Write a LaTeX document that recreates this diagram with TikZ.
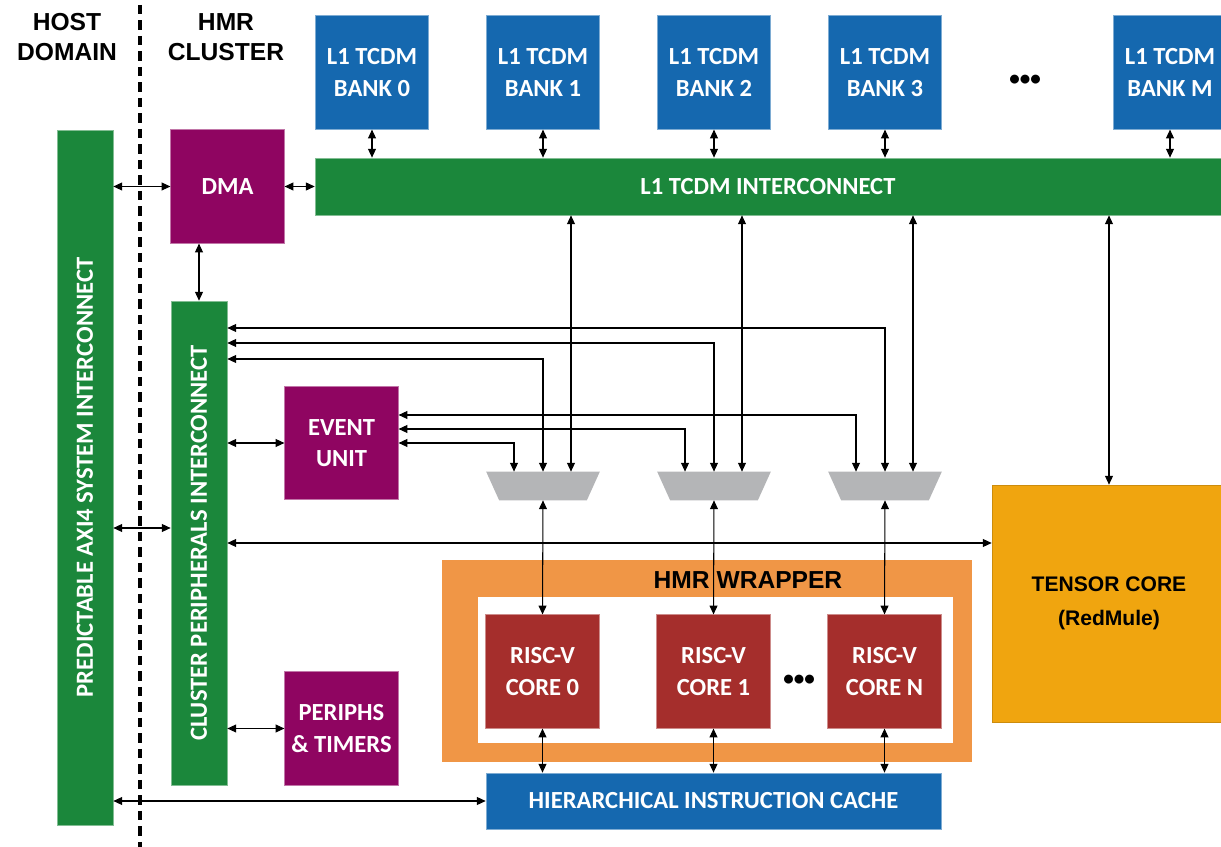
\documentclass[tikz,border=0pt]{standalone}
\usepackage{fontspec}
\setmainfont{Carlito}
\newfontfamily\headfont{Liberation Sans}
\definecolor{bankblue}{HTML}{1568AF}
\definecolor{icgreen}{HTML}{1B873B}
\definecolor{unitpurple}{HTML}{8F0561}
\definecolor{corered}{HTML}{A52E2C}
\definecolor{wraporange}{HTML}{F09646}
\definecolor{tensoramber}{HTML}{F0A50F}
\definecolor{muxgray}{HTML}{B4B5B7}
\usetikzlibrary{arrows.meta}

\begin{document}
\begin{tikzpicture}[x=0.02cm, y=-0.02cm,
  blk/.style={inner sep=0pt, align=center, text=white, font=\fontsize{14}{18}\selectfont\bfseries},
  sq/.style={blk, minimum width=2.27cm, minimum height=2.27cm},
  bank/.style={sq, fill=bankblue, draw=bankblue!55},
  unit/.style={sq, fill=unitpurple, draw=unitpurple!55},
  core/.style={sq, fill=corered, draw=corered!55},
  bus/.style={blk, fill=icgreen, draw=icgreen!55},
  mux/.style={minimum width=2.26cm, minimum height=0.56cm, inner sep=0pt},
  head/.style={align=center, font=\headfont\fontsize{14}{17}\selectfont\bfseries},
  dots/.style={font=\fontsize{12}{12}\selectfont\bfseries, inner sep=0pt},
  link/.style={{Triangle[length=5pt,width=4.5pt]}-{Triangle[length=5pt,width=4.5pt]}, line width=0.6pt},
]
  \useasboundingbox (0,0) rectangle (1221,847);
  \clip (0,0) rectangle (1221,847);

  % domains
  \node[head] (hosthd) at (67,37) {HOST\\DOMAIN};
  \node[head] (hmrhd) at (226,37) {HMR\\CLUSTER};
  \draw[line width=1.8pt, dash pattern=on 0.19cm off 0.12cm] (140,5) -- (140,847);

  % interconnects
  \node[bus, minimum width=1.12cm, minimum height=13.9cm,
    label={[blk,rotate=90]center:PREDICTABLE AXI4 SYSTEM INTERCONNECT}] (axi) at (85,477.5) {};
  \node[bus, minimum width=1.12cm, minimum height=9.68cm,
    label={[blk,rotate=90]center:CLUSTER PERIPHERALS INTERCONNECT}] (cpi) at (199,543) {};
  \node[bus, minimum width=18.12cm, minimum height=1.14cm] (l1ic) at (768,186.5) {L1 TCDM INTERCONNECT};

  % memory banks
  \foreach \b/\x/\t in {0/372/0,1/543/1,2/714/2,3/885/3,m/1170/M}
    \node[bank] (bank\b) at (\x,72.5) {L1 TCDM\\BANK \t};
  \node[dots] (bankdots) at (1025,80) {\textbullet\textbullet\textbullet};

  \node[unit] (dma) at (227.5,186.5) {DMA};
  \node[unit] (evu) at (341.5,443) {EVENT\\UNIT};
  \node[unit] (per) at (341.5,728.5) {PERIPHS\\\& TIMERS};

  % hmr wrapper
  \node[fill=wraporange, minimum width=10.6cm, minimum height=4.04cm, inner sep=0pt] (wrap) at (707,661) {};
  \node[fill=white, minimum width=9.5cm, minimum height=2.92cm, inner sep=0pt] (wrapin) at (715.5,670) {};
  \node[head] (wraphd) at (748,580) {HMR WRAPPER};
  \foreach \c/\x/\t in {0/542.5/0,1/713.5/1,n/884.5/N}
    \node[core] (core\c) at (\x,671.5) {RISC-V\\CORE \t};
  \node[dots] (coredots) at (799,680) {\textbullet\textbullet\textbullet};

  \node[bank, minimum width=9.1cm, minimum height=1.12cm] (cache) at (713.5,801) {HIERARCHICAL INSTRUCTION CACHE};
  \node[fill=tensoramber, draw=tensoramber!85!black, minimum width=4.68cm, minimum height=4.74cm, inner sep=0pt,
    align=center, font=\headfont\fontsize{12}{19}\selectfont\bfseries] (tensor) at (1109,603.5) {TENSOR CORE\\(RedMule)};

  % muxes
  \foreach \m/\x in {1/543,2/714,3/885} {
    \node[mux] (mux\m) at (\x,486) {};
    \fill[muxgray] (mux\m.north west) -- (mux\m.north east) -- ([xshift=-0.26cm]mux\m.south east)
      -- ([xshift=0.26cm]mux\m.south west) -- cycle;
  }

  % links
  \foreach \b in {0,1,2,3,m}
    \draw[link] (bank\b.south) -- (l1ic.north -| bank\b.south);
  \draw[link] (axi.east |- dma) -- (dma.west);
  \draw[link] (dma.east) -- (l1ic.west);
  \draw[link] (dma.south -| cpi.north) -- (cpi.north);
  \draw[link] (axi.east |- 0,528) -- (cpi.west |- 0,528);
  \draw[link] (axi.east |- cache) -- (cache.west);
  \draw[link] (cpi.east |- evu) -- (evu.west);
  \draw[link] (cpi.east |- per) -- (per.west);
  \draw[link] (cpi.east) -- (tensor.west |- cpi.east);
  \draw[link] (tensor.north) -- (l1ic.south -| tensor.north);

  \foreach \m/\y in {1/359,2/343,3/328}
    \draw[link] (cpi.east |- 0,\y) -| (mux\m.north);
  \foreach \m/\y in {1/443,2/429,3/415} {
    \coordinate (evin\m) at ([xshift=-0.58cm]mux\m.north);
    \draw[link] (evu.east |- 0,\y) -| (evin\m);
  }
  \foreach \m in {1,2,3} {
    \coordinate (icin\m) at ([xshift=0.56cm]mux\m.north);
    \draw[link] (icin\m |- l1ic.south) -- (icin\m);
  }
  \foreach \m/\c in {1/0,2/1,3/n} {
    \draw[link] (mux\m.south) -- (core\c.north);
    \draw[link] (core\c.south) -- (cache.north -| core\c.south);
  }
\end{tikzpicture}
\end{document}
